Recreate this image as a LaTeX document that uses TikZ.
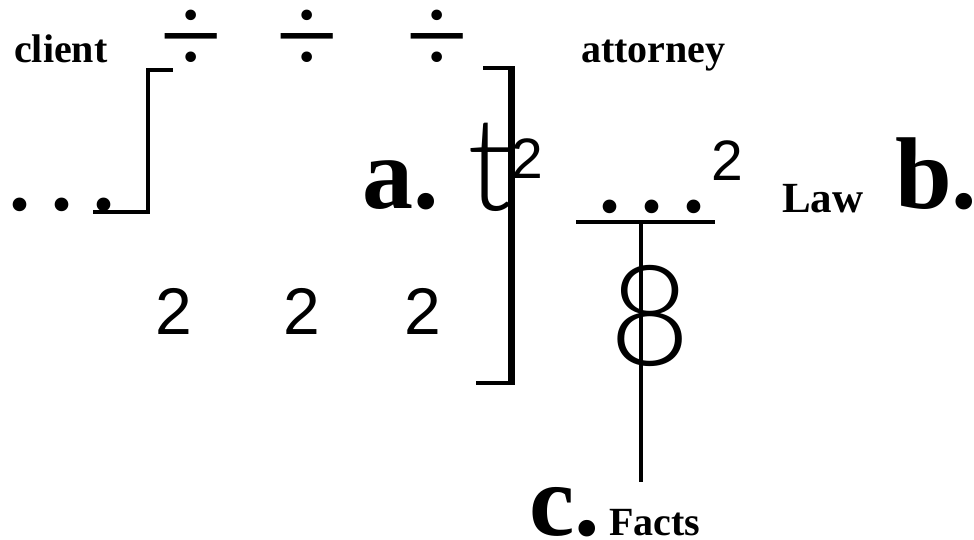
\documentclass[tikz,border=0pt]{standalone}
\usepackage{fontspec}
\setmainfont{Liberation Serif}
\newfontfamily\cifrefont{Liberation Sans}
\IfFontExistsTF{Lato Light}{\newfontfamily\sottilefont{Lato Light}}{%
  \IfFontExistsTF{Fira Sans Light}{\newfontfamily\sottilefont{Fira Sans Light}}{%
    \IfFontExistsTF{Open Sans Light}{\newfontfamily\sottilefont{Open Sans Light}}{%
      \newfontfamily\sottilefont{DejaVu Sans}}}}
\usetikzlibrary{positioning}

\begin{document}
\begin{tikzpicture}[
    x=1pt, y=-1pt,
    line join=miter,
    tratto/.style    = {line width=3.5pt},
    barra/.style     = {line width=7pt},
    etichetta/.style = {font=\fontsize{40}{40}\selectfont\bfseries, inner sep=0pt, anchor=base west},
    lettera/.style   = {font=\fontsize{102}{102}\selectfont\bfseries, inner sep=0pt, anchor=base west},
    punti/.style     = {font=\fontsize{84}{84}\selectfont\bfseries, inner sep=0pt, anchor=base west},
    diviso/.style    = {font=\fontsize{112}{112}\selectfont, inner sep=0pt},
    cifra/.style     = {font=\cifrefont\fontsize{57}{57}\selectfont, inner sep=0pt, anchor=base west},
    sottile/.style   = {font=\sottilefont, inner sep=0pt}
]
\useasboundingbox (0,0) rectangle (974,539);

% ---- parti in alto ----
\node[etichetta] (cliente)  at (14,62)  {client};
\node[etichetta] (avvocato) at (581,62) {attorney};
\foreach \x/\n in {191/d1, 307/d2, 437/d3}{
    \node[diviso] (\n) at (\x,42) {÷};
}

% ---- parentesi di sinistra ----
\node[punti] (puntiA) at (9.5,210) {.\ .\ .};
\draw[tratto] (93,212) -- (148,212) -- (148,70) -- (173,70);

% ---- a. ----
\node[lettera] (a) at (362,208) {a.};
\node[sottile, font=\sottilefont\fontsize{130}{130}\selectfont] (t) at (489.5,167.5) {t};
\node[cifra] (apiceT) at (511,178) {2};

% ---- 2 2 2 ----
\foreach \x/\n in {174/c1, 302/c2, 423/c3}{
    \node[cifra, anchor=base, font=\cifrefont\fontsize{66}{66}\selectfont] (\n) at (\x,334) {2};
}

% ---- parentesi di destra ----
\draw[tratto] (483,68) -- (511,68);
\draw[tratto] (476,383) -- (511,383);
\draw[barra] (511,66) -- (511,385);

% ---- b. Law ----
\node[punti] (puntiB) at (599.5,212) {.\ .\ .};
\node[cifra] (apiceB) at (711,180) {2};
\node[etichetta, font=\fontsize{43}{43}\selectfont\bfseries] (legge) at (782,212) {Law};
\node[lettera] (b) at (895,208) {b.};

% ---- T e c. Facts ----
\coordinate (sbarraS) at (576,222);
\coordinate (sbarraD) at (715,222);
\coordinate (nodoT)   at (641,222);
\coordinate (piede)   at (641,482);
\draw[line width=4pt] (sbarraS) -- (sbarraD);
\draw[tratto] (nodoT) -- (piede);
\node[sottile, font=\sottilefont\fontsize{140}{140}\selectfont] (otto) at (650,316) {8};
\node[lettera] (c) at (529,535) {c.};
\node[etichetta] (fatti) at (609,535) {Facts};

\end{tikzpicture}
\end{document}
